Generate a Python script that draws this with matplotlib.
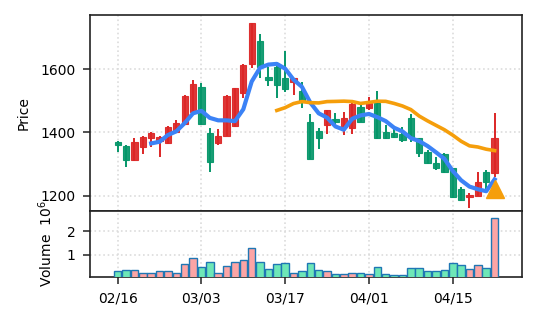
import numpy as np
import matplotlib
matplotlib.use("Agg")
import matplotlib.pyplot as plt

nan = np.nan

tick_labels = ["02/16", "03/03", "03/17", "04/01", "04/15"]
tick_index = [0, 10, 20, 30, 40]

opens = [1370, 1358, 1311, 1352, 1381, 1371, 1365, 1400, 1425, 1465,
         1544, 1397, 1365, 1389, 1420, 1523, 1615, 1689, 1576, 1608,
         1573, 1560, 1531, 1432, 1405, 1423, 1441, 1418, 1413, 1479,
         1476, 1492, 1400, 1397, 1394, 1444, 1381, 1339, 1302, 1330,
         1286, 1221, 1196, 1198, 1273, 1270]
highs = [1373, 1360, 1381, 1387, 1402, 1389, 1420, 1438, 1518, 1566,
         1555, 1415, 1410, 1518, 1541, 1615, 1747, 1710, 1608, 1618,
         1657, 1573, 1560, 1457, 1413, 1470, 1460, 1465, 1500, 1486,
         1511, 1531, 1423, 1413, 1418, 1458, 1383, 1344, 1323, 1334,
         1288, 1228, 1209, 1275, 1281, 1460]
lows = [1337, 1291, 1310, 1330, 1352, 1323, 1364, 1398, 1423, 1463,
        1423, 1275, 1360, 1388, 1418, 1510, 1602, 1571, 1548, 1507,
        1529, 1518, 1478, 1314, 1346, 1395, 1415, 1392, 1395, 1432,
        1471, 1380, 1380, 1383, 1370, 1370, 1323, 1300, 1281, 1272,
        1193, 1184, 1162, 1197, 1217, 1260]
closes = [1360, 1311, 1370, 1386, 1397, 1386, 1418, 1428, 1516, 1552,
          1425, 1307, 1389, 1516, 1539, 1613, 1745, 1608, 1566, 1550,
          1537, 1571, 1495, 1316, 1381, 1469, 1431, 1444, 1489, 1434,
          1492, 1381, 1381, 1384, 1376, 1386, 1334, 1302, 1286, 1273,
          1194, 1186, 1202, 1244, 1242, 1381]
volumes = [0.29, 0.33, 0.33, 0.24, 0.20, 0.29, 0.29, 0.24, 0.60, 0.86,
           0.47, 0.67, 0.24, 0.51, 0.69, 0.77, 1.29, 0.67, 0.39, 0.60,
           0.64, 0.24, 0.29, 0.63, 0.33, 0.31, 0.19, 0.19, 0.24, 0.20,
           0.16, 0.47, 0.17, 0.13, 0.13, 0.43, 0.43, 0.29, 0.29, 0.33,
           0.63, 0.56, 0.39, 0.54, 0.43, 2.57]
ma_fast = [nan, nan, nan, nan, 1364.8, 1370.0, 1391.4, 1403.0, 1429.0, 1460.0,
           1467.8, 1445.6, 1437.8, 1437.8, 1435.2, 1472.8, 1560.4, 1604.2, 1614.2, 1616.4,
           1601.2, 1566.4, 1543.8, 1493.8, 1460.0, 1446.4, 1418.4, 1408.2, 1442.8, 1453.4,
           1458.0, 1448.0, 1435.4, 1414.4, 1402.8, 1381.6, 1372.2, 1356.4, 1336.8, 1316.2,
           1277.8, 1248.2, 1228.2, 1219.8, 1213.6, 1251.0]
ma_slow = [nan] * 19 + [1469.1,
           1478.0, 1491.0, 1497.2, 1493.7, 1492.9, 1497.1, 1497.7, 1498.5, 1497.2, 1491.3,
           1494.6, 1498.3, 1497.9, 1491.3, 1483.2, 1471.8, 1451.3, 1436.0, 1422.0, 1408.1,
           1391.0, 1371.7, 1357.1, 1353.5, 1346.5, 1342.1]
signal = [nan] * 45 + [1220]

o = np.array(opens, float)
h = np.array(highs, float)
l = np.array(lows, float)
c = np.array(closes, float)
v = np.array(volumes, float)
x = np.arange(len(o))
up = c >= o

RED = "#dc2626"
GREEN = "#059669"
VUP = "#fca5a5"
VDN = "#6ee7b7"

fig = plt.figure(figsize=(5.37, 3.22), dpi=100)
ax1 = fig.add_axes([0.1676, 0.3447, 0.8045, 0.6087])
ax2 = fig.add_axes([0.1676, 0.1413, 0.8045, 0.2034], sharex=ax1)

for ax in (ax1, ax2):
    ax.grid(True, linestyle=":", color="#dcdcdc", linewidth=1.2)
    ax.set_axisbelow(True)
    for s in ax.spines.values():
        s.set_color("#222222")
        s.set_linewidth(1.2)
    ax.tick_params(direction="out", length=5, width=1.1, pad=5.5,
                   labelsize=10, color="#222222")

cols = np.where(up, RED, GREEN)
ax1.vlines(x, l, h, colors=cols, linewidth=1.4, zorder=2)
body_h = np.maximum(np.abs(c - o), 2.0)
ax1.bar(x, body_h, bottom=np.minimum(o, c), width=0.75, color=cols,
        edgecolor=cols, linewidth=0.8, alpha=0.92, zorder=3)

ax1.plot(x, np.array(ma_fast, float), color="#3b82f6", linewidth=3.0, zorder=4)
ax1.plot(x, np.array(ma_slow, float), color="#f59e0b", linewidth=2.6, zorder=4)
ax1.plot(x, np.array(signal, float), linestyle="none", marker="^",
         markersize=13, color="#f59e0b", zorder=5)

ax1.set_ylim(1151, 1771)
ax1.set_yticks([1200, 1400, 1600])
ax1.set_xlim(-3.3, 48.27)
ax1.tick_params(axis="x", which="both", bottom=False, labelbottom=False)
ax1.set_ylabel("Price", fontsize=10)
ax1.yaxis.set_label_coords(-0.1375, 0.5)

vcols = np.where(up, VUP, VDN)
ax2.bar(x, v, width=0.9, color=vcols, edgecolor="#1f77b4", linewidth=1.0, zorder=3)
ax2.set_ylim(0.07, 2.86)
ax2.set_yticks([1, 2])
ax2.set_xticks(tick_index)
ax2.set_xticklabels(tick_labels)
ax2.set_ylabel("Volume  $10^{6}$", fontsize=10)
ax2.yaxis.set_label_coords(-0.08, 0.5)

fig.savefig("out.png", dpi=100)
